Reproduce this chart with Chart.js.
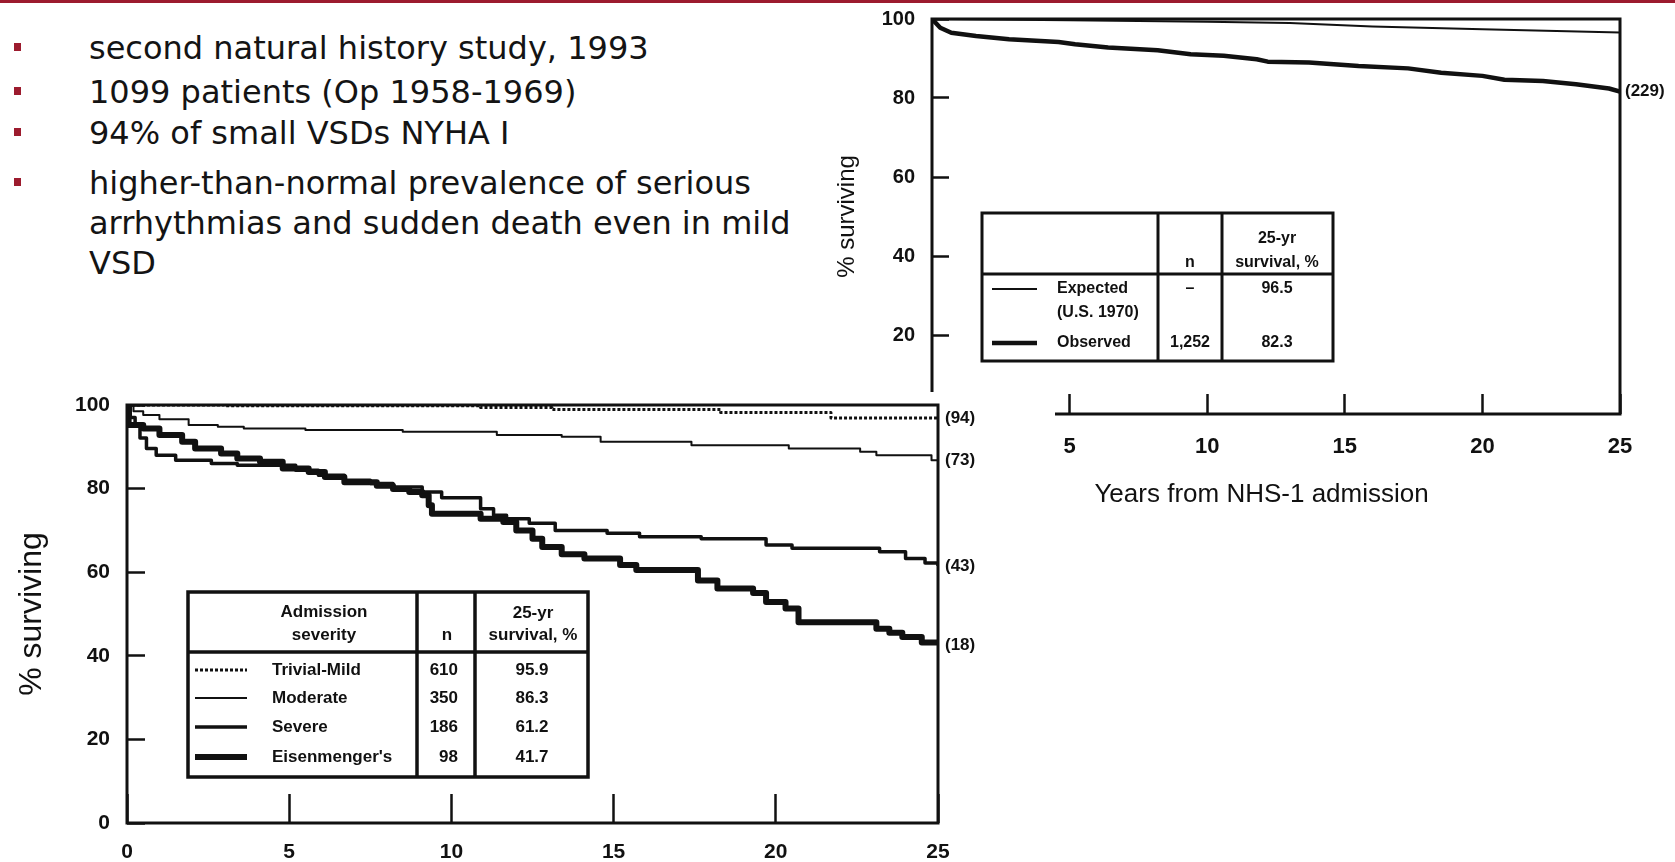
<!DOCTYPE html>
<html>
<head>
<meta charset="utf-8">
<script src="https://cdn.jsdelivr.net/npm/chart.js@4.4.1/dist/chart.umd.min.js"></script>
<style>
html,body{margin:0;padding:0;background:#fff;width:1675px;height:862px;overflow:hidden;}
#topbar{position:absolute;left:0;top:0;width:1675px;height:3px;background:#9c1b2e;}
.b{position:absolute;left:89px;font-family:"DejaVu Sans",Verdana,sans-serif;font-size:32px;line-height:40px;color:#141414;white-space:nowrap;}
.b:before{content:"";position:absolute;left:-75px;top:15px;width:7px;height:8px;background:#9c1b2e;}
#topWrap{position:absolute;left:830px;top:0;width:845px;height:502px;overflow:hidden;}
#botWrap{position:absolute;left:0;top:392px;width:1055px;height:470px;background:#fff;overflow:hidden;}
canvas{display:block;}
</style>
</head>
<body>
<div id="topbar"></div>
<div class="b" style="top:28px">second natural history study, 1993</div>
<div class="b" style="top:72px">1099 patients (Op 1958-1969)</div>
<div class="b" style="top:113px">94% of small VSDs NYHA I</div>
<div class="b" style="top:163px">higher-than-normal prevalence of serious<br>arrhythmias and sudden death even in mild<br>VSD</div>

<div id="topWrap"><canvas id="topChart" width="845" height="520"></canvas></div>
<div id="botWrap"><canvas id="botChart" width="1055" height="470"></canvas></div>

<script>
// ---------- data: bottom chart (survival by admission severity) ----------
const xTickValues = [0, 5, 10, 15, 20, 25];
const yTickValues = [0, 20, 40, 60, 80, 100];

const mildYears = [0, 3.0, 10.9, 13.1, 18.3, 21.7, 25];
const mildSurv  = [100, 99.8, 99.4, 98.9, 98.2, 96.9, 96.9];

const moderateYears = [0, 0.2, 0.5, 1.0, 1.9, 2.8, 3.6, 5.5, 8.5, 11.4, 13.4, 14.6, 17.4, 20.4, 22.6, 23.1, 24.8, 25];
const moderateSurv  = [100, 98.5, 97.6, 96.6, 95.2, 94.8, 94.4, 94.0, 93.6, 92.8, 92.4, 91.2, 90.4, 89.6, 88.8, 88.0, 86.8, 86.8];

const severeYears = [0, 0.1, 0.25, 0.4, 0.6, 0.9, 1.5, 2.6, 3.4, 5.2, 5.9, 6.7, 7.5, 8.2, 9.1, 9.7, 10.9, 11.3, 11.7, 12.4, 13.2, 14.8, 15.8, 17.7, 19.7, 20.5, 23.2, 24.0, 24.6, 25];
const severeSurv  = [100, 97.0, 95.0, 92.1, 89.6, 88.0, 86.8, 86.0, 85.6, 84.4, 83.2, 82.0, 81.2, 80.4, 79.2, 77.8, 75.2, 73.6, 72.8, 71.7, 70.0, 69.3, 68.5, 68.0, 66.5, 65.7, 64.9, 63.3, 62.2, 61.5];

const eisenYears = [0, 0.05, 0.5, 1.0, 1.7, 2.1, 2.9, 3.4, 4.1, 4.8, 5.6, 6.1, 6.7, 7.7, 8.2, 8.7, 9.1, 9.3, 9.4, 10.9, 11.6, 12.0, 12.5, 12.8, 13.4, 14.1, 15.2, 15.7, 17.6, 18.2, 19.3, 19.7, 20.3, 20.7, 23.1, 23.5, 23.9, 24.5, 25];
const eisenSurv  = [100, 95.2, 94.4, 92.8, 91.2, 89.6, 88.4, 87.2, 86.4, 84.8, 84.0, 82.8, 81.5, 80.7, 79.9, 79.2, 78.4, 76.0, 74.0, 72.8, 72.0, 70.0, 68.0, 66.0, 64.3, 63.3, 61.7, 60.5, 58.0, 56.1, 55.0, 52.9, 51.3, 48.0, 46.5, 45.5, 44.5, 43.2, 42.5];

const severityLabels = ['Trivial-Mild', 'Moderate', 'Severe', "Eisenmenger's"];
const severityN      = [610, 350, 186, 98];
const severity25yr   = [95.9, 86.3, 61.2, 41.7];
const severityAtRisk = [94, 73, 43, 18];

// ---------- data: top chart (observed vs expected) ----------
const expYears = [0, 5, 10, 13, 16, 20, 25];
const expSurv  = [100, 99.7, 99.3, 99.0, 98.1, 97.4, 96.6];

const obsYears = [0, 0.3, 0.7, 1.6, 2.8, 4.6, 5.2, 6.4, 8.2, 9.4, 10.6, 11.8, 12.2, 13.7, 15.5, 17.3, 18.5, 20.0, 20.8, 22.2, 23.4, 24.6, 25];
const obsSurv  = [100, 97.8, 96.5, 95.7, 94.9, 94.2, 93.6, 92.8, 92.1, 91.1, 90.7, 89.8, 89.2, 89.0, 88.1, 87.5, 86.4, 85.6, 84.6, 84.3, 83.5, 82.4, 81.6];

const cohortLabels = [['Expected', '(U.S. 1970)'], ['Observed']];
const cohortN      = ['\u2013', '1,252'];
const cohort25yr   = [96.5, 82.3];
const cohortAtRisk = [null, 229];

// ---------- helpers & plugins ----------
const FONT = '"Liberation Sans", Arial, Helvetica, sans-serif';
const INK = '#111111';
const pts = (xs, ys) => xs.map((x, i) => ({x: x, y: ys[i]}));

const framePlugin = {
  id: 'frame',
  afterDatasetsDraw(chart, args, opts) {
    const {ctx, chartArea: a} = chart;
    ctx.save();
    ctx.strokeStyle = INK;
    ctx.lineWidth = opts.width || 3;
    ctx.strokeRect(a.left, a.top, a.right - a.left, a.bottom - a.top);
    ctx.restore();
  }
};

const tablePlugin = {
  id: 'survTable',
  afterDatasetsDraw(chart, args, o) {
    const {ctx, chartArea: a} = chart;
    const X = v => a.left + v, Y = v => a.top + v;
    const line = (x1, y1, x2, y2) => { ctx.beginPath(); ctx.moveTo(x1, y1); ctx.lineTo(x2, y2); ctx.stroke(); };
    ctx.save();
    const [x0, y0, x1, y1] = o.box;
    ctx.fillStyle = '#fff';
    ctx.fillRect(X(x0), Y(y0), x1 - x0, y1 - y0);
    ctx.strokeStyle = INK;
    ctx.lineWidth = o.lw;
    ctx.strokeRect(X(x0), Y(y0), x1 - x0, y1 - y0);
    line(X(x0), Y(o.sep), X(x1), Y(o.sep));
    o.cols.forEach(c => line(X(c), Y(y0), X(c), Y(y1)));
    ctx.fillStyle = INK;
    ctx.font = o.font;
    ctx.textBaseline = 'middle';
    ctx.textAlign = 'center';
    o.header.forEach(h => ctx.fillText(h.t, X(h.x), Y(h.y)));
    o.datasets.forEach((di, i) => {
      const ds = chart.data.datasets[di];
      const y = Y(o.rowY[i]);
      ctx.save();
      ctx.lineWidth = ds.borderWidth;
      ctx.setLineDash(ds.borderDash || []);
      ctx.lineCap = 'butt';
      line(X(o.sampleX[0]), y, X(o.sampleX[1]), y);
      ctx.restore();
      ctx.textAlign = 'left';
      const names = Array.isArray(o.names[i]) ? o.names[i] : [o.names[i]];
      names.forEach((nm, k) => ctx.fillText(nm, X(o.nameX), y + k * o.lineGap));
      ctx.textAlign = o.nAlign;
      ctx.fillText(String(o.n[i]), X(o.nX), y);
      ctx.textAlign = 'center';
      ctx.fillText(Number(o.v[i]).toFixed(1), X(o.vX), y);
    });
    ctx.restore();
  }
};

const endLabelPlugin = {
  id: 'endLabels',
  afterDatasetsDraw(chart, args, o) {
    const {ctx, chartArea: a, scales: {y}} = chart;
    ctx.save();
    ctx.font = o.font;
    ctx.fillStyle = INK;
    ctx.textAlign = 'left';
    ctx.textBaseline = 'middle';
    o.labels.forEach((lab, i) => {
      if (lab === null || lab === undefined) return;
      const d = chart.data.datasets[o.datasets[i]].data;
      ctx.fillText('(' + lab + ')', a.right + o.dx, y.getPixelForValue(d[d.length - 1].y));
    });
    ctx.restore();
  }
};

const setTicks = vals => scale => { scale.ticks = vals.map(v => ({value: v})); };

function axisX(o) {
  return {
    type: 'linear', min: 0, max: 25,
    afterBuildTicks: setTicks(xTickValues),
    afterFit: s => { s.height = o.h; s.paddingLeft = 0; s.paddingRight = 0; },
    border: {display: false},
    grid: {display: true, drawOnChartArea: false, drawTicks: true, tickLength: -o.tl, tickWidth: 2.5, tickColor: INK},
    ticks: {color: INK, padding: o.pad, maxRotation: 0, autoSkip: false, font: {family: FONT, size: o.fs, weight: 'bold'}},
    title: o.title ? {display: true, text: o.title, color: INK, font: {family: FONT, size: o.tfs}, padding: {top: 0, bottom: o.tpad}} : {display: false}
  };
}
function axisY(o) {
  return {
    type: 'linear', min: 0, max: 100,
    afterBuildTicks: setTicks(yTickValues),
    afterFit: s => { s.width = o.w; s.paddingTop = 0; s.paddingBottom = 0; },
    border: {display: false},
    grid: {display: true, drawOnChartArea: false, drawTicks: true, tickLength: -o.tl, tickWidth: 2.5, tickColor: INK},
    ticks: {color: INK, padding: o.pad, font: {family: FONT, size: o.fs, weight: 'bold'}},
    title: {display: true, text: '% surviving', color: INK, font: {family: FONT, size: o.tfs}, padding: {top: o.tpad, bottom: 0}}
  };
}

const common = {
  responsive: false, animation: false, devicePixelRatio: 1,
  elements: {point: {radius: 0}, line: {tension: 0, borderJoinStyle: 'round', borderCapStyle: 'butt'}},
  events: []
};

// ---------- top chart ----------
new Chart(document.getElementById('topChart'), {
  type: 'line',
  data: {datasets: [
    {label: 'Expected', data: pts(expYears, expSurv), borderColor: INK, borderWidth: 2, fill: false},
    {label: 'Observed', data: pts(obsYears, obsSurv), borderColor: INK, borderWidth: 4.5, fill: false}
  ]},
  options: Object.assign({}, common, {
    layout: {padding: {top: 19, right: 55, left: 0, bottom: 0}},
    plugins: {
      legend: {display: false}, tooltip: {enabled: false},
      frame: {width: 3},
      survTable: {
        box: [50, 194, 401, 342], sep: 255, cols: [226, 290], lw: 3,
        font: 'bold 16px ' + FONT,
        header: [{t: 'n', x: 258, y: 244}, {t: '25-yr', x: 345, y: 220}, {t: 'survival, %', x: 345, y: 244}],
        rowY: [270, 324], sampleX: [60, 105], nameX: 125, lineGap: 24,
        nX: 258, nAlign: 'center', vX: 345,
        names: cohortLabels, n: cohortN, v: cohort25yr, datasets: [0, 1]
      },
      endLabels: {font: 'bold 17px ' + FONT, dx: 5, labels: cohortAtRisk, datasets: [0, 1]}
    },
    scales: {
      x: axisX({h: 106, tl: 20, pad: 40, fs: 22, title: 'Years from NHS-1 admission\u00a0\u00a0\u00a0\u00a0', tfs: 26, tpad: 9.5}),
      y: axisY({w: 102, tl: 17, pad: 34, fs: 20, tfs: 24, tpad: 3})
    }
  }),
  plugins: [framePlugin, tablePlugin, endLabelPlugin]
});

// ---------- bottom chart ----------
new Chart(document.getElementById('botChart'), {
  type: 'line',
  data: {datasets: [
    {label: severityLabels[0], data: pts(mildYears, mildSurv), borderColor: INK, borderWidth: 3, borderDash: [3, 2], stepped: true, fill: false},
    {label: severityLabels[1], data: pts(moderateYears, moderateSurv), borderColor: INK, borderWidth: 2, stepped: true, fill: false},
    {label: severityLabels[2], data: pts(severeYears, severeSurv), borderColor: INK, borderWidth: 3.5, stepped: true, fill: false},
    {label: severityLabels[3], data: pts(eisenYears, eisenSurv), borderColor: INK, borderWidth: 6, stepped: true, fill: false}
  ]},
  options: Object.assign({}, common, {
    layout: {padding: {top: 13, right: 117, left: 0, bottom: 0}},
    plugins: {
      legend: {display: false}, tooltip: {enabled: false},
      frame: {width: 3},
      survTable: {
        box: [61, 187, 461, 372], sep: 247, cols: [290, 348], lw: 3.5,
        font: 'bold 17px ' + FONT,
        header: [{t: 'Admission', x: 197, y: 207}, {t: 'severity', x: 197, y: 230}, {t: 'n', x: 320, y: 230},
                 {t: '25-yr', x: 406, y: 208}, {t: 'survival, %', x: 406, y: 230}],
        rowY: [265, 293, 322, 352], sampleX: [68, 120], nameX: 145, lineGap: 24,
        nX: 331, nAlign: 'right', vX: 405,
        names: severityLabels, n: severityN, v: severity25yr, datasets: [0, 1, 2, 3]
      },
      endLabels: {font: 'bold 17px ' + FONT, dx: 7, labels: severityAtRisk, datasets: [0, 1, 2, 3]}
    },
    scales: {
      x: axisX({h: 39, tl: 29, pad: 46, fs: 21}),
      y: axisY({w: 127, tl: 18, pad: 35, fs: 21, tfs: 32, tpad: 13})
    }
  }),
  plugins: [framePlugin, tablePlugin, endLabelPlugin]
});
</script>
</body>
</html>
